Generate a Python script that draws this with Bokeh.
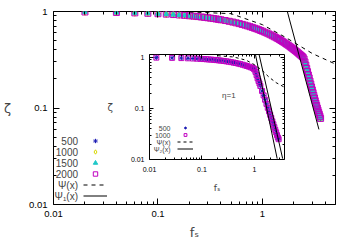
from bokeh.plotting import figure
from bokeh.models import (Range1d, LogAxis, Legend, LegendItem, Label, LogTickFormatter,
                          FixedTicker)
from bokeh.layouts import column
from bokeh.embed import file_html
from bokeh.resources import INLINE

FONT = "Liberation Sans"

# ---------------- main panel data ----------------
series_names = ["500", "1000", "1500", "2000"]
series_colors = ["#1c1cb4", "#d8d800", "#1ec8c8", "#c000c0"]
series_markers = ["asterisk", "diamond", "triangle", "square"]

fs = [0.02, 0.04, 0.06, 0.08, 0.10, 0.12, 0.14, 0.16, 0.18, 0.20,
      0.22, 0.24, 0.26, 0.28, 0.30, 0.32, 0.34, 0.36, 0.38, 0.40,
      0.44, 0.48, 0.52, 0.56, 0.60, 0.64, 0.68, 0.72, 0.76, 0.80, 0.84, 0.88, 0.92, 0.96, 1.00,
      1.05, 1.10, 1.15, 1.20, 1.25, 1.30, 1.35, 1.40, 1.45, 1.50, 1.55, 1.60, 1.65, 1.70, 1.75,
      1.80, 1.85, 1.90, 1.95, 2.00,
      2.05, 2.10, 2.15, 2.20, 2.25, 2.30, 2.35, 2.40, 2.45, 2.50, 2.55, 2.60, 2.65, 2.70, 2.75,
      2.80, 2.85, 2.90, 2.95, 3.00,
      3.05, 3.10, 3.15, 3.20, 3.25, 3.30, 3.35, 3.40, 3.45, 3.50, 3.55, 3.60]
zeta = [0.989, 0.978, 0.968, 0.958, 0.949, 0.939, 0.930, 0.921, 0.912, 0.903,
        0.894, 0.886, 0.877, 0.869, 0.861, 0.853, 0.845, 0.837, 0.829, 0.821,
        0.806, 0.791, 0.777, 0.763, 0.749, 0.735, 0.722, 0.709, 0.696, 0.684, 0.671, 0.660, 0.648, 0.636, 0.625,
        0.611, 0.598, 0.585, 0.572, 0.559, 0.547, 0.535, 0.524, 0.512, 0.501, 0.490, 0.480, 0.469, 0.459, 0.449,
        0.440, 0.430, 0.421, 0.412, 0.403,
        0.395, 0.387, 0.379, 0.371, 0.363, 0.356, 0.349, 0.342, 0.335, 0.322, 0.300, 0.278, 0.257, 0.238, 0.220,
        0.205, 0.190, 0.177, 0.165, 0.154,
        0.144, 0.135, 0.127, 0.119, 0.112, 0.106, 0.100, 0.095, 0.090, 0.086, 0.082, 0.078]

psi_x = [0.2, 0.5, 1.0, 1.66, 3.0, 5.0]
psi_y = [0.99, 0.95, 0.73, 0.54, 0.367, 0.285]
psi1_x = [1.73, 3.47]
psi1_y = [1.0, 0.06]

major_ticks = [0.01, 0.1, 1]
minor_ticks = [0.02, 0.03, 0.04, 0.05, 0.06, 0.07, 0.08, 0.09,
               0.2, 0.3, 0.4, 0.5, 0.6, 0.7, 0.8, 0.9, 2, 3, 4, 5]

# ---------------- inset data ----------------
ins_f = [0.0135, 0.027, 0.0405, 0.054, 0.0675, 0.081, 0.0945, 0.108, 0.122, 0.135,
         0.15, 0.17, 0.19, 0.21, 0.23, 0.26, 0.29, 0.32, 0.36, 0.40,
         0.44, 0.49, 0.54, 0.60, 0.66, 0.72, 0.79, 0.86, 0.93, 0.97,
         1.0, 1.05, 1.1, 1.15, 1.2, 1.25, 1.3, 1.4, 1.5, 1.6,
         1.7, 1.8, 1.9, 2.0, 2.1, 2.2, 2.3, 2.4, 2.5, 2.6, 2.7, 2.8, 2.9]
ins_z = [0.99, 0.98, 0.97, 0.96, 0.952, 0.944, 0.936, 0.928, 0.92, 0.913,
         0.905, 0.895, 0.885, 0.875, 0.866, 0.852, 0.838, 0.825, 0.808, 0.792,
         0.776, 0.757, 0.739, 0.718, 0.698, 0.679, 0.658, 0.638, 0.62, 0.605,
         0.58, 0.52, 0.45, 0.39, 0.345, 0.31, 0.275, 0.22, 0.18, 0.148,
         0.123, 0.103, 0.088, 0.075, 0.065, 0.056, 0.049, 0.043, 0.038, 0.034, 0.03, 0.027, 0.025]
ins_psi_x = [0.2, 0.4, 0.7, 1.0, 1.4, 1.9, 2.6, 3.75]
ins_psi_y = [1.08, 1.02, 0.88, 0.72, 0.56, 0.41, 0.32, 0.26]
ins_psi2a_x = [1.04, 2.72]
ins_psi2a_y = [1.18, 0.0104]
ins_psi2b_x = [1.22, 3.46]
ins_psi2b_y = [1.18, 0.0104]


def style_axis(ax, major, minor, size, standoff, show_labels=True):
    ax.ticker = FixedTicker(ticks=major_ticks, minor_ticks=minor_ticks)
    ax.axis_line_color = None
    ax.major_tick_in = major
    ax.major_tick_out = 0
    ax.minor_tick_in = minor
    ax.minor_tick_out = 0
    ax.major_tick_line_color = "black"
    ax.minor_tick_line_color = "black"
    ax.formatter = LogTickFormatter(min_exponent=3)
    ax.major_label_text_font = FONT
    if show_labels:
        ax.major_label_text_color = "black"
        ax.major_label_text_font_size = size
        ax.major_label_standoff = standoff
    else:
        ax.major_label_text_color = None
        ax.major_label_text_font_size = "1px"
        ax.major_label_standoff = 0


def horiz_label(ax):
    try:
        ax.axis_label_orientation = "horizontal"
    except Exception:
        pass


def key_legend(fig, items, loc, gw, gh):
    lg = Legend(items=items, location=loc)
    lg.glyph_width = gw
    lg.glyph_height = gh
    lg.label_height = gh
    lg.label_standoff = 0
    lg.label_text_color = None
    lg.label_text_font_size = "5px"
    lg.spacing = 0
    lg.padding = 0
    lg.margin = 0
    lg.border_line_color = None
    lg.background_fill_alpha = 0
    fig.add_layout(lg)


# ================= main figure =================
p = figure(width=345, height=245, x_axis_type="log", y_axis_type="log",
           x_range=Range1d(0.01, 5.0), y_range=Range1d(0.01, 1.0),
           output_backend="svg", toolbar_location=None,
           min_border_left=50, min_border_right=10, min_border_top=11, min_border_bottom=41)
p.grid.visible = False
p.outline_line_color = "black"
p.outline_line_width = 1
p.background_fill_color = "white"
p.border_fill_color = "white"

style_axis(p.xaxis[0], 6, 3, "9.5px", 6)
style_axis(p.yaxis[0], 6, 3, "9.5px", 6)
p.xaxis[0].axis_label = "fₛ"
p.xaxis[0].axis_label_text_font = "DejaVu Sans"
p.xaxis[0].axis_label_text_font_style = "normal"
p.xaxis[0].axis_label_text_font_size = "13px"
p.xaxis[0].axis_label_standoff = 5
p.yaxis[0].axis_label = "ζ"
p.yaxis[0].axis_label_text_font = "DejaVu Sans"
p.yaxis[0].axis_label_text_font_style = "normal"
p.yaxis[0].axis_label_text_font_size = "13px"
p.yaxis[0].axis_label_standoff = 15
horiz_label(p.yaxis[0])

for side in ("above", "right"):
    ax = LogAxis()
    style_axis(ax, 6, 3, "9.5px", 6, show_labels=False)
    p.add_layout(ax, side)

renderers = []
for name, col, mk in zip(series_names, series_colors, series_markers):
    size = 6
    fill = None
    if mk == "triangle":
        fill = col
        size = 5
    if mk == "diamond":
        size = 7
    r = p.scatter(fs, zeta, marker=mk, size=size, line_color=col,
                  fill_color=fill, line_width=1)
    renderers.append(r)

r_psi = p.line(psi_x, psi_y, line_color="black", line_width=1, line_dash="4 4")
r_psi1 = p.line(psi1_x, psi1_y, line_color="black", line_width=1)

main_labels = series_names + ["Ψ(x)", "Ψ₁(x)"]
main_keys = renderers + [r_psi, r_psi1]
key_legend(p, [LegendItem(label=t, renderers=[r]) for t, r in zip(main_labels, main_keys)],
           (30, 3), 24, 11)
for i, t in enumerate(main_labels):
    p.add_layout(Label(x=24.5, y=63.5 - 11 * i, x_units="screen", y_units="screen", text=t,
                       text_font=FONT, text_font_size="10px", text_align="right",
                       text_baseline="middle"))

# ================= inset figure =================
q = figure(width=198, height=149, x_axis_type="log", y_axis_type="log",
           x_range=Range1d(0.01, 3.75), y_range=Range1d(0.01, 1.14),
           output_backend="svg", toolbar_location=None,
           min_border_left=46, min_border_right=4, min_border_top=6, min_border_bottom=38)
q.grid.visible = False
q.outline_line_color = "black"
q.outline_line_width = 1
q.background_fill_color = None
q.border_fill_color = None

style_axis(q.xaxis[0], 4, 2, "7px", 7)
style_axis(q.yaxis[0], 4, 2, "7px", 5)
q.xaxis[0].axis_label = "fₛ"
q.xaxis[0].axis_label_text_font = "DejaVu Sans"
q.xaxis[0].axis_label_text_font_style = "normal"
q.xaxis[0].axis_label_text_font_size = "9px"
q.xaxis[0].axis_label_standoff = 8
q.yaxis[0].axis_label = "ζ"
q.yaxis[0].axis_label_text_font = "DejaVu Sans"
q.yaxis[0].axis_label_text_font_style = "normal"
q.yaxis[0].axis_label_text_font_size = "10px"
q.yaxis[0].axis_label_standoff = 15
horiz_label(q.yaxis[0])

for side in ("above", "right"):
    ax = LogAxis()
    style_axis(ax, 4, 2, "7px", 5, show_labels=False)
    q.add_layout(ax, side)

ri500 = q.scatter(ins_f, ins_z, marker="asterisk", size=5, line_color=series_colors[0], line_width=1)
ri1000 = q.scatter(ins_f, ins_z, marker="square", size=5, line_color=series_colors[3],
                   fill_color=None, line_width=1)
ri_psi = q.line(ins_psi_x, ins_psi_y, line_color="black", line_width=1, line_dash="3 3")
ri_psi2 = q.line(ins_psi2a_x, ins_psi2a_y, line_color="black", line_width=1)
q.line(ins_psi2b_x, ins_psi2b_y, line_color="black", line_width=1)

q.add_layout(Label(x=0.326, y=0.177, text="η=1", text_font=FONT, text_font_size="8px",
                   text_align="center", text_baseline="middle"))

inset_labels = ["500", "1000", "Ψ(x)", "Ψ₂(x)"]
inset_keys = [ri500, ri1000, ri_psi, ri_psi2]
key_legend(q, [LegendItem(label=t, renderers=[r]) for t, r in zip(inset_labels, inset_keys)],
           (28, 7), 16, 7)
for i, t in enumerate(inset_labels):
    q.add_layout(Label(x=21, y=31.5 - 7 * i, x_units="screen", y_units="screen", text=t,
                       text_font=FONT, text_font_size="7px", text_align="right",
                       text_baseline="middle"))

q.margin = (-197, 0, 0, 96)
layout = column(p, q, spacing=0)

open("out.html", "w").write(file_html(layout, INLINE))
